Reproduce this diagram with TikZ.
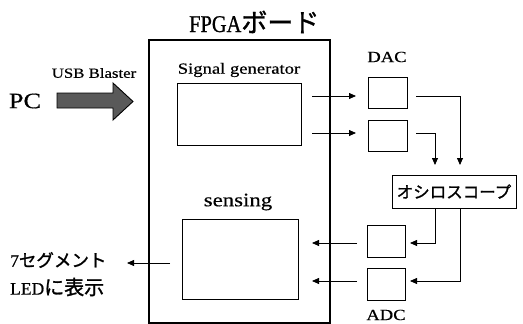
\documentclass[tikz,border=0pt]{standalone}
\usepackage{fontspec}
\setmainfont{Liberation Serif}[FakeStretch=1.2,FakeBold=0.5]
\newfontfamily\serifn{Liberation Serif}[FakeBold=0.6]
\newfontfamily\titlefont{Liberation Serif}[FakeStretch=0.85,FakeBold=0.8]
\newfontfamily\jp{Noto Sans CJK JP}[FakeBold=1.3]
\usetikzlibrary{arrows.meta}
\begin{document}
\begin{tikzpicture}[x=1pt,y=-1pt,
  blk/.style={draw,line width=0.9pt,inner sep=0pt},
  lbl/.style={inner sep=0pt,font=\fontsize{15.5}{18}\selectfont},
  sig/.style={line width=0.8pt,-{Triangle[length=7pt,width=6pt]}}]
\useasboundingbox (0,0) rectangle (523,324);
% board
\node[blk,line width=1.3pt,minimum width=181pt,minimum height=283pt] (board) at (239.5,181.5) {};
\node[lbl,anchor=base west] (title) at (189,32) {{\fontsize{24}{26}\selectfont\titlefont FPGA}{\fontsize{26}{28}\selectfont\jp ボード}};
% inner blocks
\node[blk,minimum width=124pt,minimum height=62pt] (sg) at (239,114) {};
\node[lbl] (sgl) at (239,70) {Signal generator};
\node[blk,minimum width=116pt,minimum height=80pt] (sens) at (240,259) {};
\node[lbl,font=\fontsize{19}{22}\selectfont] (sensl) at (238,202) {sensing};
% DAC / ADC
\node[blk,minimum width=39pt,minimum height=31pt] (dac1) at (387.5,92.5) {};
\node[blk,minimum width=39pt,minimum height=31pt] (dac2) at (387.5,135.5) {};
\node[lbl] (dacl) at (387,57) {DAC};
\node[blk,minimum width=38pt,minimum height=32pt] (adc1) at (386,241) {};
\node[blk,minimum width=38pt,minimum height=32pt] (adc2) at (386,284) {};
\node[lbl] (adcl) at (386,315) {ADC};
% oscilloscope
\node[blk,minimum width=124pt,minimum height=33pt,font=\fontsize{16.5}{18}\selectfont\jp] (osc) at (454,191.5) {オシロスコープ};
% PC and USB
\node[lbl,font=\fontsize{22}{26}\selectfont] (pc) at (25,101) {PC};
\node[lbl,font=\fontsize{14}{17}\selectfont] (usbl) at (94,73) {USB Blaster};
\filldraw[line width=0.9pt,fill=black!65] (57,93) -- (113,93) -- (113,83) -- (133,101.5)
  -- (113,120) -- (113,108) -- (57,108) -- cycle;
% 7seg text
\node[lbl,anchor=west,font=\fontsize{17.5}{19}\selectfont\serifn] (seg) at (10,260) {7{\jp セグメント}};
\node[lbl,anchor=west,font=\fontsize{17.5}{19}\selectfont\serifn] (led) at (10,287) {LED{\fontsize{20}{22}\selectfont\jp に表示}};
% coordinates for free ends
\coordinate (s1) at (312,96);
\coordinate (s2) at (312,133);
\coordinate (d1) at (416,96);
\coordinate (d2) at (416,133);
\coordinate (o1) at (460,165);
\coordinate (o2) at (435,165);
\coordinate (b1) at (435,208);
\coordinate (b2) at (460,208);
\coordinate (a1) at (410,243);
\coordinate (a2) at (410,281);
\coordinate (e1) at (357,243);
\coordinate (e2) at (357,281);
\coordinate (f1) at (312,243);
\coordinate (f2) at (312,281);
\coordinate (g0) at (170,263);
\coordinate (g1) at (127,263);
% connectors
\draw[sig] (s1) -- ++(44,0);
\draw[sig] (s2) -- ++(44,0);
\draw[sig] (d1) -| (o1);
\draw[sig] (d2) -| (o2);
\draw[sig] (b1) |- (a1);
\draw[sig] (b2) |- (a2);
\draw[sig] (e1) -- (f1);
\draw[sig] (e2) -- (f2);
\draw[sig] (g0) -- (g1);
\end{tikzpicture}
\end{document}
